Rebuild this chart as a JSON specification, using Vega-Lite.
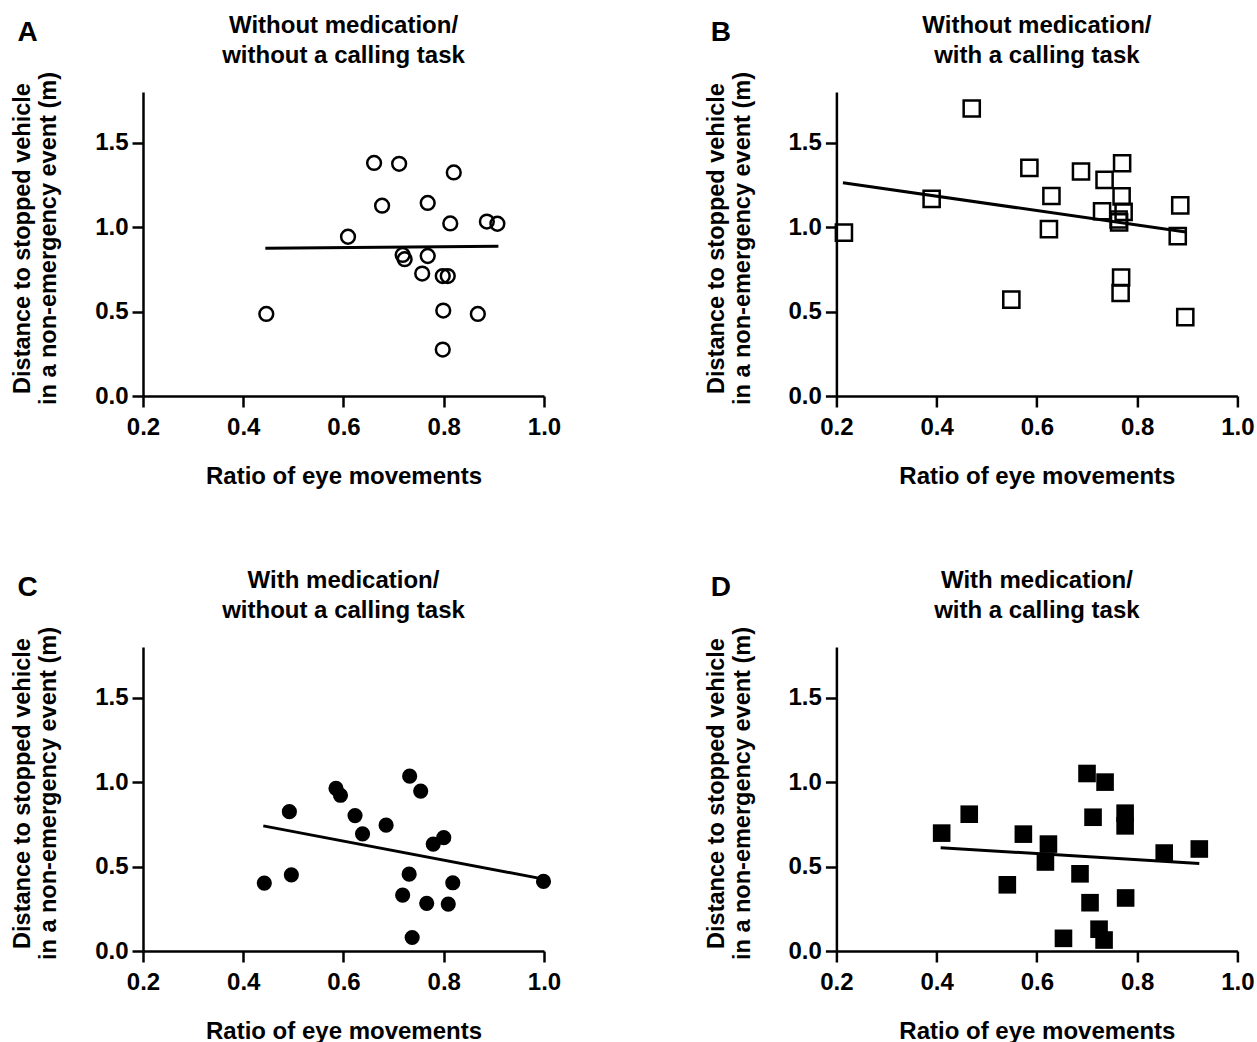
{
  "$schema": "https://vega.github.io/schema/vega-lite/v6.json",
  "background": "white",
  "padding": {"left": 10, "top": 14, "right": 0, "bottom": 0},
  "config": {
    "font": "Liberation Sans",
    "view": {"stroke": null},
    "axis": {"domainColor": "black", "domainWidth": 2.5, "tickColor": "black", "tickWidth": 2.5, "tickSize": 11, "labelFontSize": 24, "labelFontWeight": "bold", "labelColor": "black", "labelFlush": false, "labelOverlap": false, "titleFontSize": 24, "titleFontWeight": "bold", "titleColor": "black", "grid": false, "labelFont": "Liberation Sans", "titleFont": "Liberation Sans"},
    "axisY": {"titleFontSize": 23.5, "titleY": 146},
    "title": {"fontSize": 24, "fontWeight": "bold", "font": "Liberation Sans", "color": "black", "anchor": "middle", "frame": "group", "lineHeight": 30, "offset": 0, "dy": 54}
  },
  "datasets": {
    "pts": [
      {"panel": "A", "ratio": 0.446, "distance": 0.486},
      {"panel": "A", "ratio": 0.609, "distance": 0.943},
      {"panel": "A", "ratio": 0.661, "distance": 1.380},
      {"panel": "A", "ratio": 0.711, "distance": 1.375},
      {"panel": "A", "ratio": 0.820, "distance": 1.324},
      {"panel": "A", "ratio": 0.677, "distance": 1.127},
      {"panel": "A", "ratio": 0.768, "distance": 1.143},
      {"panel": "A", "ratio": 0.813, "distance": 1.022},
      {"panel": "A", "ratio": 0.886, "distance": 1.033},
      {"panel": "A", "ratio": 0.907, "distance": 1.020},
      {"panel": "A", "ratio": 0.718, "distance": 0.835},
      {"panel": "A", "ratio": 0.722, "distance": 0.810},
      {"panel": "A", "ratio": 0.768, "distance": 0.829},
      {"panel": "A", "ratio": 0.757, "distance": 0.725},
      {"panel": "A", "ratio": 0.798, "distance": 0.710},
      {"panel": "A", "ratio": 0.808, "distance": 0.710},
      {"panel": "A", "ratio": 0.799, "distance": 0.506},
      {"panel": "A", "ratio": 0.868, "distance": 0.486},
      {"panel": "A", "ratio": 0.798, "distance": 0.275},
      {"panel": "B", "ratio": 0.215, "distance": 0.967},
      {"panel": "B", "ratio": 0.390, "distance": 1.167},
      {"panel": "B", "ratio": 0.470, "distance": 1.702},
      {"panel": "B", "ratio": 0.549, "distance": 0.571},
      {"panel": "B", "ratio": 0.585, "distance": 1.351},
      {"panel": "B", "ratio": 0.629, "distance": 1.184},
      {"panel": "B", "ratio": 0.624, "distance": 0.988},
      {"panel": "B", "ratio": 0.688, "distance": 1.329},
      {"panel": "B", "ratio": 0.735, "distance": 1.280},
      {"panel": "B", "ratio": 0.730, "distance": 1.094},
      {"panel": "B", "ratio": 0.770, "distance": 1.378},
      {"panel": "B", "ratio": 0.769, "distance": 1.182},
      {"panel": "B", "ratio": 0.773, "distance": 1.090},
      {"panel": "B", "ratio": 0.763, "distance": 1.045},
      {"panel": "B", "ratio": 0.764, "distance": 1.028},
      {"panel": "B", "ratio": 0.768, "distance": 0.702},
      {"panel": "B", "ratio": 0.767, "distance": 0.610},
      {"panel": "B", "ratio": 0.886, "distance": 1.129},
      {"panel": "B", "ratio": 0.881, "distance": 0.947},
      {"panel": "B", "ratio": 0.896, "distance": 0.467},
      {"panel": "C", "ratio": 0.442, "distance": 0.402},
      {"panel": "C", "ratio": 0.492, "distance": 0.825},
      {"panel": "C", "ratio": 0.496, "distance": 0.451},
      {"panel": "C", "ratio": 0.585, "distance": 0.963},
      {"panel": "C", "ratio": 0.594, "distance": 0.922},
      {"panel": "C", "ratio": 0.623, "distance": 0.802},
      {"panel": "C", "ratio": 0.638, "distance": 0.694},
      {"panel": "C", "ratio": 0.685, "distance": 0.745},
      {"panel": "C", "ratio": 0.732, "distance": 1.035},
      {"panel": "C", "ratio": 0.754, "distance": 0.947},
      {"panel": "C", "ratio": 0.779, "distance": 0.633},
      {"panel": "C", "ratio": 0.800, "distance": 0.671},
      {"panel": "C", "ratio": 0.731, "distance": 0.455},
      {"panel": "C", "ratio": 0.718, "distance": 0.331},
      {"panel": "C", "ratio": 0.766, "distance": 0.282},
      {"panel": "C", "ratio": 0.809, "distance": 0.278},
      {"panel": "C", "ratio": 0.818, "distance": 0.404},
      {"panel": "C", "ratio": 0.737, "distance": 0.080},
      {"panel": "C", "ratio": 0.999, "distance": 0.412},
      {"panel": "D", "ratio": 0.410, "distance": 0.698},
      {"panel": "D", "ratio": 0.465, "distance": 0.810},
      {"panel": "D", "ratio": 0.541, "distance": 0.392},
      {"panel": "D", "ratio": 0.573, "distance": 0.692},
      {"panel": "D", "ratio": 0.623, "distance": 0.633},
      {"panel": "D", "ratio": 0.617, "distance": 0.527},
      {"panel": "D", "ratio": 0.653, "distance": 0.075},
      {"panel": "D", "ratio": 0.686, "distance": 0.457},
      {"panel": "D", "ratio": 0.700, "distance": 1.051},
      {"panel": "D", "ratio": 0.736, "distance": 1.000},
      {"panel": "D", "ratio": 0.712, "distance": 0.792},
      {"panel": "D", "ratio": 0.706, "distance": 0.286},
      {"panel": "D", "ratio": 0.724, "distance": 0.129},
      {"panel": "D", "ratio": 0.734, "distance": 0.065},
      {"panel": "D", "ratio": 0.776, "distance": 0.816},
      {"panel": "D", "ratio": 0.776, "distance": 0.741},
      {"panel": "D", "ratio": 0.777, "distance": 0.314},
      {"panel": "D", "ratio": 0.854, "distance": 0.580},
      {"panel": "D", "ratio": 0.924, "distance": 0.604}
    ],
    "fit": [
      {"panel": "A", "ratio": 0.444, "distance": 0.875},
      {"panel": "A", "ratio": 0.909, "distance": 0.886},
      {"panel": "B", "ratio": 0.213, "distance": 1.263},
      {"panel": "B", "ratio": 0.897, "distance": 0.971},
      {"panel": "C", "ratio": 0.440, "distance": 0.741},
      {"panel": "C", "ratio": 0.997, "distance": 0.427},
      {"panel": "D", "ratio": 0.408, "distance": 0.612},
      {"panel": "D", "ratio": 0.924, "distance": 0.518}
    ]
  },
  "columns": 2,
  "bounds": "flush",
  "spacing": {"row": 251, "column": 292.4},
  "concat": [
    {
      "width": 401, "height": 304,
      "title": {"text": ["Without medication/", "without a calling task"]},
      "layer": [
        {
          "data": {"name": "pts"},
          "transform": [{"filter": "datum.panel === 'A'"}],
          "mark": {"type": "point", "shape": "circle", "filled": false, "size": 190, "strokeWidth": 2.5, "color": "black", "opacity": 1},
          "encoding": {
            "x": {"field": "ratio", "type": "quantitative", "scale": {"domain": [0.2, 1.0], "nice": false, "zero": false}, "axis": {"values": [0.2, 0.4, 0.6, 0.8, 1.0], "format": ".1f", "labelPadding": 8, "title": "Ratio of eye movements", "titlePadding": 25}},
            "y": {"field": "distance", "type": "quantitative", "scale": {"domain": [0, 1.8], "nice": false}, "axis": {"values": [0, 0.5, 1.0, 1.5], "format": ".1f", "labelPadding": 4, "title": ["Distance to stopped vehicle", "in a non-emergency event (m)"], "titlePadding": 34, "titleLineHeight": 26}}
          }
        },
        {
          "data": {"name": "fit"},
          "transform": [{"filter": "datum.panel === 'A'"}],
          "mark": {"type": "line", "color": "black", "strokeWidth": 3},
          "encoding": {
            "x": {"field": "ratio", "type": "quantitative", "axis": {"orient": "top", "domain": false, "ticks": false, "labels": false, "title": "A", "titleX": -116, "titleY": -60, "titleAngle": 0, "titleAlign": "center", "titleBaseline": "middle", "titleFontSize": 28}},
            "y": {"field": "distance", "type": "quantitative"}
          }
        }
      ],
      "resolve": {"axis": {"x": "independent"}}
    },
    {
      "width": 401, "height": 304,
      "title": {"text": ["Without medication/", "with a calling task"]},
      "layer": [
        {
          "data": {"name": "pts"},
          "transform": [{"filter": "datum.panel === 'B'"}],
          "mark": {"type": "point", "shape": "square", "filled": false, "size": 260, "strokeWidth": 2.5, "color": "black", "opacity": 1},
          "encoding": {
            "x": {"field": "ratio", "type": "quantitative", "scale": {"domain": [0.2, 1.0], "nice": false, "zero": false}, "axis": {"values": [0.2, 0.4, 0.6, 0.8, 1.0], "format": ".1f", "labelPadding": 8, "title": "Ratio of eye movements", "titlePadding": 25}},
            "y": {"field": "distance", "type": "quantitative", "scale": {"domain": [0, 1.8], "nice": false}, "axis": {"values": [0, 0.5, 1.0, 1.5], "format": ".1f", "labelPadding": 4, "title": ["Distance to stopped vehicle", "in a non-emergency event (m)"], "titlePadding": 34, "titleLineHeight": 26}}
          }
        },
        {
          "data": {"name": "fit"},
          "transform": [{"filter": "datum.panel === 'B'"}],
          "mark": {"type": "line", "color": "black", "strokeWidth": 3},
          "encoding": {
            "x": {"field": "ratio", "type": "quantitative", "axis": {"orient": "top", "domain": false, "ticks": false, "labels": false, "title": "B", "titleX": -116, "titleY": -60, "titleAngle": 0, "titleAlign": "center", "titleBaseline": "middle", "titleFontSize": 28}},
            "y": {"field": "distance", "type": "quantitative"}
          }
        }
      ],
      "resolve": {"axis": {"x": "independent"}}
    },
    {
      "width": 401, "height": 304,
      "title": {"text": ["With medication/", "without a calling task"]},
      "layer": [
        {
          "data": {"name": "pts"},
          "transform": [{"filter": "datum.panel === 'C'"}],
          "mark": {"type": "point", "shape": "circle", "filled": true, "size": 230, "strokeWidth": 0, "color": "black", "opacity": 1},
          "encoding": {
            "x": {"field": "ratio", "type": "quantitative", "scale": {"domain": [0.2, 1.0], "nice": false, "zero": false}, "axis": {"values": [0.2, 0.4, 0.6, 0.8, 1.0], "format": ".1f", "labelPadding": 8, "title": "Ratio of eye movements", "titlePadding": 25}},
            "y": {"field": "distance", "type": "quantitative", "scale": {"domain": [0, 1.8], "nice": false}, "axis": {"values": [0, 0.5, 1.0, 1.5], "format": ".1f", "labelPadding": 4, "title": ["Distance to stopped vehicle", "in a non-emergency event (m)"], "titlePadding": 34, "titleLineHeight": 26}}
          }
        },
        {
          "data": {"name": "fit"},
          "transform": [{"filter": "datum.panel === 'C'"}],
          "mark": {"type": "line", "color": "black", "strokeWidth": 3},
          "encoding": {
            "x": {"field": "ratio", "type": "quantitative", "axis": {"orient": "top", "domain": false, "ticks": false, "labels": false, "title": "C", "titleX": -116, "titleY": -60, "titleAngle": 0, "titleAlign": "center", "titleBaseline": "middle", "titleFontSize": 28}},
            "y": {"field": "distance", "type": "quantitative"}
          }
        }
      ],
      "resolve": {"axis": {"x": "independent"}}
    },
    {
      "width": 401, "height": 304,
      "title": {"text": ["With medication/", "with a calling task"]},
      "layer": [
        {
          "data": {"name": "pts"},
          "transform": [{"filter": "datum.panel === 'D'"}],
          "mark": {"type": "point", "shape": "square", "filled": true, "size": 310, "strokeWidth": 0, "color": "black", "opacity": 1},
          "encoding": {
            "x": {"field": "ratio", "type": "quantitative", "scale": {"domain": [0.2, 1.0], "nice": false, "zero": false}, "axis": {"values": [0.2, 0.4, 0.6, 0.8, 1.0], "format": ".1f", "labelPadding": 8, "title": "Ratio of eye movements", "titlePadding": 25}},
            "y": {"field": "distance", "type": "quantitative", "scale": {"domain": [0, 1.8], "nice": false}, "axis": {"values": [0, 0.5, 1.0, 1.5], "format": ".1f", "labelPadding": 4, "title": ["Distance to stopped vehicle", "in a non-emergency event (m)"], "titlePadding": 34, "titleLineHeight": 26}}
          }
        },
        {
          "data": {"name": "fit"},
          "transform": [{"filter": "datum.panel === 'D'"}],
          "mark": {"type": "line", "color": "black", "strokeWidth": 3},
          "encoding": {
            "x": {"field": "ratio", "type": "quantitative", "axis": {"orient": "top", "domain": false, "ticks": false, "labels": false, "title": "D", "titleX": -116, "titleY": -60, "titleAngle": 0, "titleAlign": "center", "titleBaseline": "middle", "titleFontSize": 28}},
            "y": {"field": "distance", "type": "quantitative"}
          }
        }
      ],
      "resolve": {"axis": {"x": "independent"}}
    }
  ]
}
